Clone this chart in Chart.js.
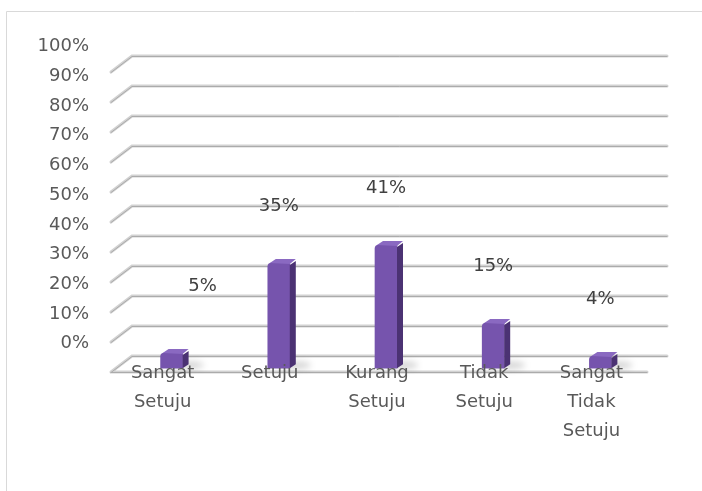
<!DOCTYPE html>
<html>
<head>
<meta charset="utf-8">
<script src="https://cdn.jsdelivr.net/npm/chart.js@4.4.1/dist/chart.umd.min.js"></script>
<style>
  html, body { margin: 0; padding: 0; background: #fff; }
  canvas { display: block; }
</style>
</head>
<body>
<canvas id="chart" width="702" height="491"></canvas>
<script>
const categories = [['Sangat', 'Setuju'], ['Setuju'], ['Kurang', 'Setuju'], ['Tidak', 'Setuju'], ['Sangat', 'Tidak', 'Setuju']];
const percentages = [5, 35, 41, 15, 4];
const tickValues = [0, 10, 20, 30, 40, 50, 60, 70, 80, 90, 100];

// extra shift for the value labels (first one sits off to the right)
const labelNudge = [[31, -10], [0, 0], [0, 0], [0, 0], [0, 0]];

const FONT = 'DejaVu Sans';
Chart.defaults.font.family = FONT;

// back wall + floor: lines pushed back and up, with slanted left edges
const wallGrid = {
  id: 'wallGrid',
  beforeDatasetsDraw(chart) {
    const { ctx, chartArea: a, scales } = chart;
    const y = scales.y;
    ctx.save();
    tickValues.forEach(v => {
      const yb = Math.round(y.getPixelForValue(v)) - 12;
      ctx.lineCap = 'round';
      ctx.strokeStyle = '#d2d2d2';
      ctx.lineWidth = 3;
      ctx.beginPath();
      ctx.moveTo(a.left - 7, yb + 16);
      ctx.lineTo(a.left + 14, yb);
      ctx.lineTo(a.right + 13, yb);
      if (v === 0) {
        ctx.moveTo(a.left - 7, yb + 16);
        ctx.lineTo(a.right - 7, yb + 16);
      }
      ctx.stroke();
      ctx.strokeStyle = '#ababab';
      ctx.lineWidth = 1;
      ctx.beginPath();
      ctx.moveTo(a.left - 7, yb + 16.5);
      ctx.lineTo(a.left + 14, yb + 0.5);
      ctx.lineTo(a.right + 13, yb + 0.5);
      if (v === 0) {
        ctx.moveTo(a.left - 7, yb + 16.5);
        ctx.lineTo(a.right - 7, yb + 16.5);
      }
      ctx.stroke();
    });

    // soft floor shadows next to each bar
    const meta = chart.getDatasetMeta(0);
    ctx.filter = 'blur(3px)';
    ctx.fillStyle = 'rgba(0,0,0,0.16)';
    meta.data.forEach(bar => {
      ctx.beginPath();
      ctx.ellipse(bar.x + 16, bar.base - 3, 16, 4, 0, 0, Math.PI * 2);
      ctx.fill();
    });
    ctx.restore();
  }
};

// side and top faces of the boxes, value labels and category names
const boxFaces = {
  id: 'boxFaces',
  afterDatasetsDraw(chart) {
    const { ctx, scales } = chart;
    const meta = chart.getDatasetMeta(0);
    const dx = 6, dy = -4;
    ctx.save();
    meta.data.forEach(bar => {
      const half = bar.width / 2;
      const l = bar.x - half, r = bar.x + half;
      // side
      ctx.fillStyle = '#4b3273';
      ctx.beginPath();
      ctx.moveTo(r, bar.y + 2);
      ctx.lineTo(r + dx, bar.y + dy + 2);
      ctx.lineTo(r + dx, bar.base + dy);
      ctx.lineTo(r, bar.base);
      ctx.closePath();
      ctx.fill();
      // top
      ctx.fillStyle = '#8a69c1';
      ctx.beginPath();
      ctx.moveTo(l + 2, bar.y);
      ctx.lineTo(l + 2 + dx, bar.y + dy);
      ctx.lineTo(r + dx, bar.y + dy);
      ctx.lineTo(r, bar.y + 1);
      ctx.closePath();
      ctx.fill();
    });

    ctx.font = '18px "' + FONT + '"';
    ctx.textAlign = 'center';
    ctx.textBaseline = 'middle';
    ctx.fillStyle = '#404040';
    meta.data.forEach((bar, i) => {
      const v = percentages[i];
      const px = bar.x + labelNudge[i][0];
      const py = scales.y.getPixelForValue(v) - 57 + labelNudge[i][1];
      ctx.fillText(v + '%', px, py);
    });

    // category names sit on top of the floor edge
    ctx.fillStyle = '#595959';
    categories.forEach((lines, i) => {
      const px = scales.x.getPixelForValue(i) - 9;
      lines.forEach((t, k) => ctx.fillText(t, px, 373 + k * 29));
    });
    ctx.restore();
  }
};

// thin frame on the top and left edges
const frame = {
  id: 'frame',
  beforeDraw(chart) {
    const { ctx, width, height } = chart;
    ctx.save();
    ctx.strokeStyle = '#d9d9d9';
    ctx.lineWidth = 1;
    ctx.beginPath();
    ctx.moveTo(6.5, height);
    ctx.lineTo(6.5, 11.5);
    ctx.lineTo(width, 11.5);
    ctx.stroke();
    ctx.restore();
  }
};

const canvas = document.getElementById('chart');
const ctx2d = canvas.getContext('2d');

function frontFill(context) {
  const bar = context.element;
  if (!bar || bar.x === undefined) return '#7654ad';
  const half = (bar.width || 22) / 2;
  const g = ctx2d.createLinearGradient(bar.x - half, 0, bar.x + half, 0);
  g.addColorStop(0, '#6644a0');
  g.addColorStop(0.45, '#7b58b4');
  g.addColorStop(1, '#6a489f');
  return g;
}

new Chart(canvas, {
  type: 'bar',
  data: {
    labels: categories,
    datasets: [{
      data: percentages,
      backgroundColor: frontFill,
      borderWidth: 0,
      borderRadius: { topLeft: 4, topRight: 1, bottomLeft: 0, bottomRight: 0 },
      borderSkipped: false,
      barThickness: 22,
    }],
  },
  options: {
    responsive: false,
    animation: false,
    layout: { padding: { top: 30, right: 48, left: 0, bottom: 0 } },
    plugins: { legend: { display: false }, tooltip: { enabled: false } },
    scales: {
      x: {
        grid: { display: false, drawTicks: false },
        border: { display: false },
        ticks: { display: false },
        afterFit(s) { s.height = 119; },
      },
      y: { display: false, min: -1.29, max: 109.39 },
      yLabels: {
        position: 'left',
        min: -9.48,
        max: 102.29,
        grid: { display: false, drawTicks: false },
        border: { display: false },
        afterBuildTicks(s) { s.ticks = tickValues.map(v => ({ value: v })); },
        ticks: {
          padding: 29,
          color: '#595959',
          font: { size: 18 },
          callback: v => v + '%',
        },
        afterFit(s) { s.width = 118; },
      },
    },
  },
  plugins: [frame, wallGrid, boxFaces],
});
</script>
</body>
</html>
